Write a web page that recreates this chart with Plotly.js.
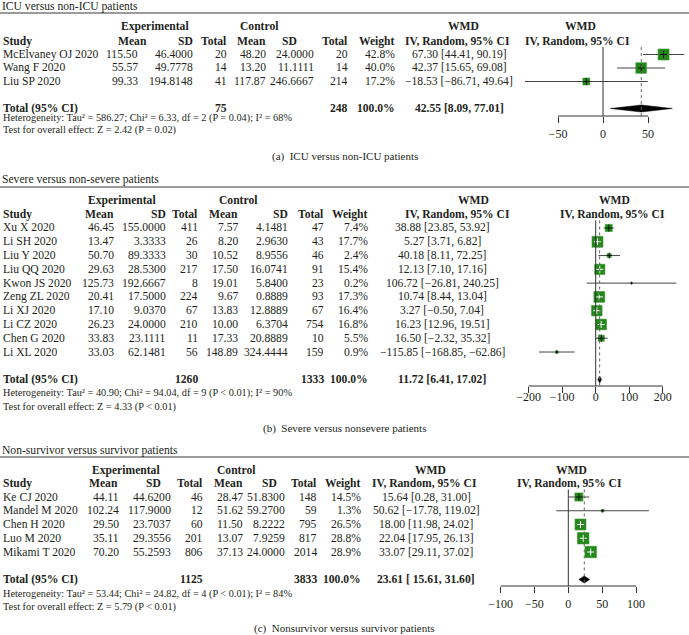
<!DOCTYPE html>
<html><head><meta charset="utf-8">
<script src="https://cdn.plot.ly/plotly-3.0.1.min.js"></script>
<style>html,body{margin:0;padding:0;background:#fff}#chart{width:689px;height:635px}</style>
</head><body><div id="chart"></div>
<script>
// ---------------- DATA ----------------
// Panel (a) ICU versus non-ICU
const titleA = "ICU versus non-ICU patients";
const captionA = "(a)  ICU versus non-ICU patients";
const studiesA = ["McElvaney OJ 2020","Wang F 2020","Liu SP 2020"];
const expMeanA = [115.50, 55.57, 99.33];
const expSdA   = [46.4000, 49.7778, 194.8148];
const expNA    = [20, 14, 41];
const ctlMeanA = [48.20, 13.20, 117.87];
const ctlSdA   = [24.0000, 11.1111, 246.6667];
const ctlNA    = [20, 14, 214];
const weightA  = [42.8, 40.0, 17.2];
const wmdA     = [67.30, 42.37, -18.53];
const loA      = [44.41, 15.65, -86.71];
const hiA      = [90.19, 69.08, 49.64];
const totalA   = {expN:75, ctlN:248, est:42.55, lo:8.09, hi:77.01, label:"42.55 [8.09, 77.01]"};
const hetA  = "Heterogeneity: Tau² = 586.27; Chi² = 6.33, df = 2 (P = 0.04); I² = 68%";
const testA = "Test for overall effect: Z = 2.42 (P = 0.02)";
const ticksA = [-50, 0, 50];

// Panel (b) Severe versus non-severe
const titleB = "Severe versus non-severe patients";
const captionB = "(b)  Severe versus nonsevere patients";
const studiesB = ["Xu X 2020","Li SH 2020","Liu Y 2020","Liu QQ 2020","Kwon JS 2020","Zeng ZL 2020","Li XJ 2020","Li CZ 2020","Chen G 2020","Li XL 2020"];
const expMeanB = [46.45, 13.47, 50.70, 29.63, 125.73, 20.41, 17.10, 26.23, 33.83, 33.03];
const expSdB   = [155.0000, 3.3333, 89.3333, 28.5300, 192.6667, 17.5000, 9.0370, 24.0000, 23.1111, 62.1481];
const expNB    = [411, 26, 30, 217, 8, 224, 67, 210, 11, 56];
const ctlMeanB = [7.57, 8.20, 10.52, 17.50, 19.01, 9.67, 13.83, 10.00, 17.33, 148.89];
const ctlSdB   = [4.1481, 2.9630, 8.9556, 16.0741, 5.8400, 0.8889, 12.8889, 6.3704, 20.8889, 324.4444];
const ctlNB    = [47, 43, 46, 91, 23, 93, 67, 754, 10, 159];
const weightB  = [7.4, 17.7, 2.4, 15.4, 0.2, 17.3, 16.4, 16.8, 5.5, 0.9];
const wmdB     = [38.88, 5.27, 40.18, 12.13, 106.72, 10.74, 3.27, 16.23, 16.50, -115.85];
const loB      = [23.85, 3.71, 8.11, 7.10, -26.81, 8.44, -0.50, 12.96, -2.32, -168.85];
const hiB      = [53.92, 6.82, 72.25, 17.16, 240.25, 13.04, 7.04, 19.51, 35.32, -62.86];
const totalB   = {expN:1260, ctlN:1333, est:11.72, lo:6.41, hi:17.02, label:"11.72 [6.41, 17.02]"};
const hetB  = "Heterogeneity: Tau² = 40.90; Chi² = 94.04, df = 9 (P < 0.01); I² = 90%";
const testB = "Test for overall effect: Z = 4.33 (P < 0.01)";
const ticksB = [-200, -100, 0, 100, 200];

// Panel (c) Non-survivor versus survivor
const titleC = "Non-survivor versus survivor patients";
const captionC = "(c)  Nonsurvivor versus survivor patients";
const studiesC = ["Ke CJ 2020","Mandel M 2020","Chen H 2020","Luo M 2020","Mikami T 2020"];
const expMeanC = [44.11, 102.24, 29.50, 35.11, 70.20];
const expSdC   = [44.6200, 117.9000, 23.7037, 29.3556, 55.2593];
const expNC    = [46, 12, 60, 201, 806];
const ctlMeanC = [28.47, 51.62, 11.50, 13.07, 37.13];
const ctlSdC   = [51.8300, 59.2700, 8.2222, 7.9259, 24.0000];
const ctlNC    = [148, 59, 795, 817, 2014];
const weightC  = [14.5, 1.3, 26.5, 28.8, 28.9];
const wmdC     = [15.64, 50.62, 18.00, 22.04, 33.07];
const loC      = [0.28, -17.78, 11.98, 17.95, 29.11];
const hiC      = [31.00, 119.02, 24.02, 26.13, 37.02];
const totalC   = {expN:1125, ctlN:3833, est:23.61, lo:15.61, hi:31.60, label:"23.61 [ 15.61, 31.60]"};
const hetC  = "Heterogeneity: Tau² = 53.44; Chi² = 24.82, df = 4 (P < 0.01); I² = 84%";
const testC = "Test for overall effect: Z = 5.79 (P < 0.01)";
const ticksC = [-100, -50, 0, 50, 100];

// ---------------- LAYOUT GEOMETRY (pixels) ----------------
const W = 689, H = 635;
const FONT = "Liberation Serif, Tinos, DejaVu Serif, serif";
const TXT = "#231f20";
const GREEN = "#22881a";
const FS = 11.6;   // table font size
const geo = [
  {titleY:6, ruleY:13, first:54.5, dy:13.5, expHdrY:26.5, studyHdrY:41, totalRow:4, hetY:118, testY:130,
   axisY:116, topY:36, captionY:156, zero:603, scale:0.9, L:515, R:689, boxK:1.68, standoff:1,
   c:{expMean:139, expMeanH:148, expSd:194, expSdH:194, expN:228, ctlMean:267, ctlMeanH:267, ctlSd:315, ctlSdH:298,
      ctlN:349, weight:396, wmd:459, ivH:457, wmdH:463, expGrp:155, ctlGrp:259, fWmd:580, fIv:577}},
  {titleY:180, ruleY:187, first:228, dy:13.78, expHdrY:201, studyHdrY:214.5, totalRow:11, hetY:393, testY:407,
   axisY:386, topY:196, captionY:428, zero:595.7, scale:0.3358, L:520, R:689, boxK:2.61, standoff:-6,
   c:{expMean:115, expMeanH:115, expSd:167, expSdH:167, expN:199, ctlMean:239, ctlMeanH:239, ctlSd:289, ctlSdH:289,
      ctlN:325, weight:369, wmd:442, ivH:457, wmdH:473, expGrp:122, ctlGrp:238, fWmd:614, fIv:612}},
  {titleY:450, ruleY:457, first:497, dy:13.75, expHdrY:470, studyHdrY:483.5, totalRow:6, hetY:594, testY:607,
   axisY:586, topY:466, captionY:628, zero:568.3, scale:0.677, L:495, R:680, boxK:2.14, standoff:1,
   c:{expMean:120, expMeanH:119, expSd:172, expSdH:162, expN:204, ctlMean:244, ctlMeanH:244, ctlSd:286, ctlSdH:278,
      ctlN:318, weight:362, wmd:426, ivH:424, wmdH:430, expGrp:126, ctlGrp:236, fWmd:571, fIv:569}}
];

const panels = [
  {title:titleA, caption:captionA, studies:studiesA, expMean:expMeanA, expSd:expSdA, expN:expNA, ctlMean:ctlMeanA, ctlSd:ctlSdA, ctlN:ctlNA,
   weight:weightA, wmd:wmdA, lo:loA, hi:hiA, total:totalA, het:hetA, test:testA, ticks:ticksA},
  {title:titleB, caption:captionB, studies:studiesB, expMean:expMeanB, expSd:expSdB, expN:expNB, ctlMean:ctlMeanB, ctlSd:ctlSdB, ctlN:ctlNB,
   weight:weightB, wmd:wmdB, lo:loB, hi:hiB, total:totalB, het:hetB, test:testB, ticks:ticksB},
  {title:titleC, caption:captionC, studies:studiesC, expMean:expMeanC, expSd:expSdC, expN:expNC, ctlMean:ctlMeanC, ctlSd:ctlSdC, ctlN:ctlNC,
   weight:weightC, wmd:wmdC, lo:loC, hi:hiC, total:totalC, het:hetC, test:testC, ticks:ticksC}
];

// ---------------- HELPERS ----------------
const M = "\u2212";
function fmt(v, d) { return (v < 0 ? M : "") + Math.abs(v).toFixed(d); }
function ciText(e, l, h) { return fmt(e,2) + " [" + fmt(l,2) + ", " + fmt(h,2) + "]"; }
function ann(text, px, py, anchor, size) {
  return {text:text, x:px/W, y:1-py/H, xref:'paper', yref:'paper', xanchor:anchor, yanchor:'middle',
          showarrow:false, borderpad:0, font:{family:FONT, size:size||FS, color:TXT}};
}
const B = s => "<b>" + s + "</b>";

const traces = [], annotations = [], shapes = [];
const layout = {width:W, height:H, margin:{l:0,r:0,t:0,b:0}, showlegend:false,
  font:{family:FONT, color:TXT},
  paper_bgcolor:'#fff', plot_bgcolor:'rgba(0,0,0,0)', annotations:annotations, shapes:shapes};

panels.forEach((p, k) => {
  const g = geo[k];
  const sfx = k === 0 ? "" : String(k+1);
  const xa = 'x' + sfx, ya = 'y' + sfx;
  const rowPx = i => g.first + i * g.dy;
  const rowOf = py => (py - g.first) / g.dy;
  const idx = p.studies.map((_, i) => i);

  // axes
  layout['xaxis' + sfx] = {domain:[g.L/W, g.R/W], range:[(g.L-g.zero)/g.scale, (g.R-g.zero)/g.scale],
    anchor:ya, tickvals:p.ticks, ticktext:p.ticks.map(t => fmt(t,0)), ticks:'outside', ticklen:6, tickwidth:1,
    tickcolor:'#333', showline:false, showgrid:false, zeroline:false, fixedrange:true, ticklabelstandoff:g.standoff,
    tickfont:{family:FONT, size:12, color:TXT}};
  layout['yaxis' + sfx] = {domain:[1 - g.axisY/H, 1 - g.topY/H], range:[rowOf(g.axisY), rowOf(g.topY)],
    anchor:xa, visible:false, fixedrange:true};

  // CI lines
  const cx = [], cy = [];
  idx.forEach(i => { cx.push(p.lo[i], p.hi[i], null); cy.push(i, i, null); });
  traces.push({type:'scatter', mode:'lines', x:cx, y:cy, xaxis:xa, yaxis:ya, line:{color:'#444', width:1}, hoverinfo:'skip'});

  // squares (area proportional to weight)
  const sizes = p.weight.map(w => g.boxK * Math.sqrt(w));
  traces.push({type:'scatter', mode:'markers', x:p.wmd, y:idx, xaxis:xa, yaxis:ya,
    marker:{symbol:'square', size:sizes, color:GREEN, opacity:1, line:{width:0.6, color:'#3d9a33'}}});

  // inner cross: white when CI fits inside box, otherwise black
  const crossCol = idx.map(i => ((p.hi[i]-p.lo[i]) * g.scale <= sizes[i]) ? '#ffffff' : '#111111');
  traces.push({type:'scatter', mode:'markers', x:p.wmd, y:idx, xaxis:xa, yaxis:ya,
    marker:{symbol:'cross-thin', size:sizes.map(s => Math.min(5, Math.max(s, 2))), opacity:1, color:crossCol, line:{color:crossCol, width:1}}});

  // diamond
  const T = g.totalRow, h = 0.26;
  traces.push({type:'scatter', mode:'lines', x:[p.total.lo, p.total.est, p.total.hi, p.total.est, p.total.lo],
    y:[T, T-h, T, T+h, T], xaxis:xa, yaxis:ya, fill:'toself', fillcolor:'#000', line:{color:'#000', width:0.5}});

  // reference lines
  const yb = rowOf(g.axisY);
  shapes.push({type:'line', xref:xa, yref:ya, x0:0, x1:0, y0:-0.55, y1:yb, line:{color:'#333', width:1}});
  shapes.push({type:'line', xref:xa, yref:ya, x0:p.total.est, x1:p.total.est, y0:-0.55, y1:yb, line:{color:'#666', width:1, dash:'dot'}});
  shapes.push({type:'line', xref:xa, yref:ya + ' domain', x0:p.ticks[0], x1:p.ticks[p.ticks.length-1], y0:0, y1:0, line:{color:'#333', width:1}});
  // title rule
  shapes.push({type:'line', xref:'paper', yref:'paper', x0:0, x1:1, y0:1-g.ruleY/H, y1:1-g.ruleY/H, line:{color:'#7a7a7a', width:1.5}});

  // title & caption
  annotations.push(ann(p.title, 1, g.titleY, 'left', 11.6));
  annotations.push(ann(p.caption, W/2, g.captionY, 'center', 11));

  // headers
  const c = g.c;
  annotations.push(ann(B("Experimental"), c.expGrp, g.expHdrY, 'center'));
  annotations.push(ann(B("Control"), c.ctlGrp, g.expHdrY, 'center'));
  annotations.push(ann(B("WMD"), c.wmdH, g.expHdrY, 'center'));
  annotations.push(ann(B("WMD"), c.fWmd, g.expHdrY, 'center'));
  const hy = g.studyHdrY;
  annotations.push(ann(B("Study"), 2, hy, 'left'));
  annotations.push(ann(B("Mean"), c.expMeanH, hy, 'right'));
  annotations.push(ann(B("SD"), c.expSdH, hy, 'right'));
  annotations.push(ann(B("Total"), c.expN, hy, 'right'));
  annotations.push(ann(B("Mean"), c.ctlMeanH, hy, 'right'));
  annotations.push(ann(B("SD"), c.ctlSdH, hy, 'right'));
  annotations.push(ann(B("Total"), c.ctlN, hy, 'right'));
  annotations.push(ann(B("Weight"), c.weight, hy, 'right'));
  annotations.push(ann(B("IV, Random, 95% CI"), c.ivH, hy, 'center'));
  annotations.push(ann(B("IV, Random, 95% CI"), c.fIv, hy, 'center'));

  // rows
  idx.forEach(i => {
    const y = rowPx(i);
    annotations.push(ann(p.studies[i], 2, y, 'left'));
    annotations.push(ann(fmt(p.expMean[i],2), c.expMean, y, 'right'));
    annotations.push(ann(fmt(p.expSd[i],4), c.expSd, y, 'right'));
    annotations.push(ann(String(p.expN[i]), c.expN, y, 'right'));
    annotations.push(ann(fmt(p.ctlMean[i],2), c.ctlMean, y, 'right'));
    annotations.push(ann(fmt(p.ctlSd[i],4), c.ctlSd, y, 'right'));
    annotations.push(ann(String(p.ctlN[i]), c.ctlN, y, 'right'));
    annotations.push(ann(p.weight[i].toFixed(1) + "%", c.weight, y, 'right'));
    annotations.push(ann(ciText(p.wmd[i], p.lo[i], p.hi[i]), c.wmd, y, 'center'));
  });

  // total row
  const ty = rowPx(T);
  annotations.push(ann(B("Total (95% CI)"), 2, ty, 'left'));
  annotations.push(ann(B(String(p.total.expN)), c.expN, ty, 'right'));
  annotations.push(ann(B(String(p.total.ctlN)), c.ctlN, ty, 'right'));
  annotations.push(ann(B("100.0%"), c.weight, ty, 'right'));
  annotations.push(ann(B(p.total.label.replace(/-/g, M)), c.wmd, ty, 'center'));
  annotations.push(ann(p.het, 2, g.hetY, 'left', 10.3));
  annotations.push(ann(p.test, 2, g.testY, 'left', 10.3));
});

Plotly.newPlot('chart', traces, layout, {staticPlot:true, displayModeBar:false});
</script>
</body></html>
